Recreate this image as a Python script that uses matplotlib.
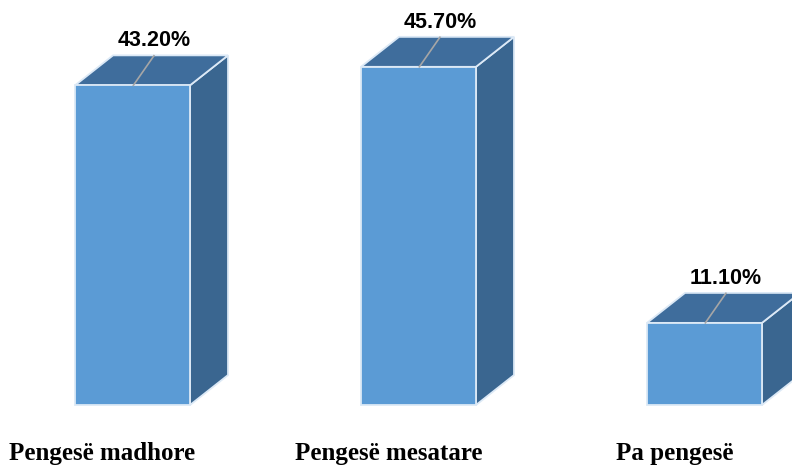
import matplotlib
matplotlib.use("Agg")
import matplotlib.pyplot as plt
from matplotlib.patches import Polygon

categories = ["Pengesë madhore", "Pengesë mesatare", "Pa pengesë"]
values = [43.2, 45.7, 11.1]
value_labels = ["43.20%", "45.70%", "11.10%"]

front_c = "#5B9BD5"
top_c = "#3F6D9C"
side_c = "#3A6690"
edge_c = "#DCE9F6"

fig = plt.figure(figsize=(7.92, 4.68), dpi=100)
ax = fig.add_axes([0, 0, 1, 1])
ax.set_xlim(-0.4633, 2.306)
ax.set_ylim(-8.51, 54.73)
ax.axis("off")

w = 0.402
dx = 0.133
dy = 4.05

for i, (cat, v, lab) in enumerate(zip(categories, values, value_labels)):
    x0, x1 = i - w / 2, i + w / 2
    front = Polygon([(x0, 0), (x1, 0), (x1, v), (x0, v)], closed=True,
                    facecolor=front_c, edgecolor=edge_c, lw=1.3, zorder=3)
    top = Polygon([(x0, v), (x1, v), (x1 + dx, v + dy), (x0 + dx, v + dy)], closed=True,
                  facecolor=top_c, edgecolor=edge_c, lw=1.3, zorder=2)
    side = Polygon([(x1, 0), (x1 + dx, dy), (x1 + dx, v + dy), (x1, v)], closed=True,
                   facecolor=side_c, edgecolor=edge_c, lw=1.3, zorder=2)
    for p in (side, top, front):
        ax.add_patch(p)
    ax.plot([i + 0.003, i + 0.075], [v, v + 4.0], color="#A6A6A6", lw=1.2, zorder=4)
    ax.text(i + 0.075, v + 6.0, lab, ha="center", va="center",
            fontsize=15.5, fontweight="bold", family="Liberation Sans", color="black")
    ax.text(i - 0.105, -6.5, cat, ha="center", va="center",
            fontsize=18, fontweight="bold", family="Liberation Serif", color="black")

fig.savefig("out.png", dpi=100)
